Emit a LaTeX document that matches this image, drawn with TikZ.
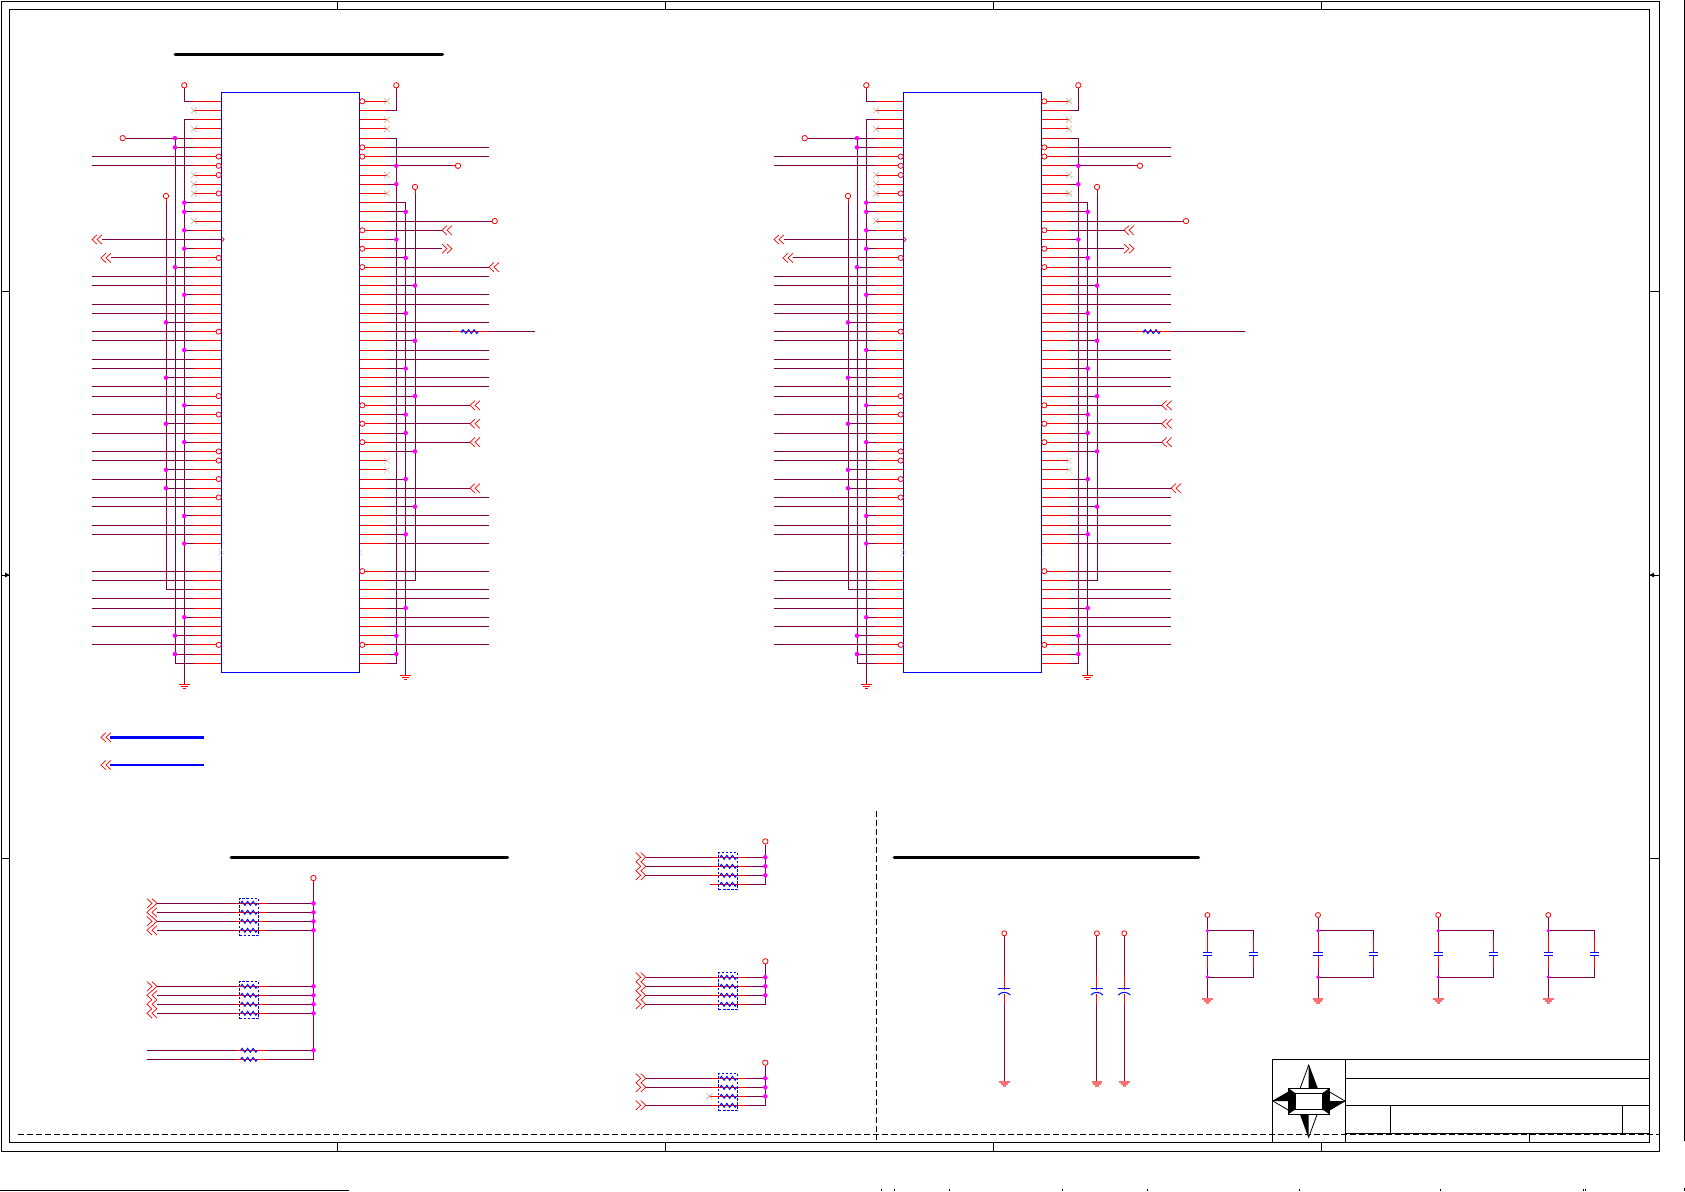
\documentclass[tikz,border=0pt]{standalone}
\definecolor{wirec}{HTML}{7F0040}
\definecolor{xc}{HTML}{C8A890}
\definecolor{xf}{HTML}{E0D0C4}
\definecolor{gndf}{HTML}{FF7070}
\definecolor{jcol}{HTML}{FF00FF}
\definecolor{pblue}{HTML}{0000FF}
\definecolor{pred}{HTML}{FF0000}
\tikzset{
 wire/.style={draw=wirec,line width=0.9pt},
 pinl/.style={draw=pred,line width=0.9pt},
 icbox/.style={draw=pblue,fill=white,line width=0.9pt,rectangle,inner sep=0pt,minimum width=138pt,minimum height=580pt},
 jdot/.style={fill=jcol,draw=none,circle,inner sep=0pt,minimum size=4.6pt},
 pwr/.style={draw=pred,fill=white,line width=0.8pt,circle,inner sep=0pt,minimum size=5.4pt},
 bub/.style={draw=pred,fill=white,line width=0.8pt,circle,inner sep=0pt,minimum size=5.2pt},
 nc/.style={draw=xc,line width=0.6pt},
 ncf/.style={draw=xf,line width=0.6pt},
 chev/.style={draw=pred,line width=0.7pt},
 resz/.style={draw=pblue,line width=0.9pt},
 packbox/.style={draw=pblue,dash pattern=on 2.6pt off 1.5pt,line width=1pt,rectangle,inner sep=0pt,minimum width=18.8pt,minimum height=37.4pt},
 capl/.style={draw=pblue,line width=1.2pt},
 frm/.style={draw=black,line width=0.9pt},
 dashl/.style={draw=black,line width=0.8pt,dash pattern=on 6pt off 3pt},
 titlebar/.style={draw=black,line width=3pt,line cap=round},
 gndl/.style={draw=pred,line width=0.7pt},
 gndp/.style={draw=gndf,line width=1.3pt}
}
\newcommand\rowy[1]{101.3+9.213*#1}
% chevrons: tip x, y
\newcommand\chL[2]{\draw[chev] ({#1+5},{#2-4.7}) -- (#1,#2) -- ({#1+5},{#2+4.7}) ({#1+10},{#2-4.7}) -- ({#1+5},#2) -- ({#1+10},{#2+4.7});}
\newcommand\chR[2]{\draw[chev] (#1,{#2-4.7}) -- ({#1+5},#2) -- (#1,{#2+4.7}) ({#1+5},{#2-4.7}) -- ({#1+10},#2) -- ({#1+5},{#2+4.7});}
\newcommand\ncx[2]{\draw[nc] ({#1-3},{#2-3}) -- ({#1+3},{#2+3}) ({#1-3},{#2+3}) -- ({#1+3},{#2-3});}
\newcommand\ncy[2]{\draw[ncf] ({#1-3},{#2-3}) -- ({#1+3},{#2+3}) ({#1-3},{#2+3}) -- ({#1+3},{#2-3});}
\newcommand\zig[2]{\draw[resz] (#1,#2) -- ++(1.4,-2) -- ++(2.75,4) -- ++(2.75,-4) -- ++(2.75,4) -- ++(2.75,-4) -- ++(2.75,4) -- ++(1.4,-2);}
\newcommand\gnd[2]{\draw[gndl] ({#1-5.7},#2) -- ({#1+5.7},#2) ({#1-3.6},{#2+2}) -- ({#1+3.6},{#2+2}) ({#1-1.6},{#2+4}) -- ({#1+1.6},{#2+4});}
\newcommand\gndpink[2]{\draw[gndp] ({#1-5.4},#2) -- ({#1+5.4},#2) ({#1-3.6},{#2+2}) -- ({#1+3.6},{#2+2}) ({#1-1.6},{#2+4}) -- ({#1+1.6},{#2+4});}
% common part of an IC (drawn in IC1 coordinates)
\newcommand\ICcommon{%
 % left pins
 \foreach \i in {0,...,48,51,52,...,61} {\draw[pinl] (193.7,\rowy{\i}) -- (221.3,\rowy{\i});}
 \foreach \i in {6,7,19,20,22,23,25,26,28,29,31,32,34,36,38,39,41,43,44,46,47,51,52,54,55,57,59}
  {\draw[wire] (92,\rowy{\i}) -- (193.7,\rowy{\i});}
 % left buses
 \node[pwr] (pa) at (166,196) {};
 \draw[wire] (pa) -- (166,\rowy{53}) -- (193.7,\rowy{53});
 \draw[pinl] (166,198.5) -- (166,203);
 \node[pwr] (pc) at (184.3,85.3) {};
 \draw[wire] (pc) -- (184.3,\rowy{0}) -- (193.7,\rowy{0});
 \node[pwr] (pb) at (122.7,\rowy{4}) {};
 \draw[wire] (pb) -- (193.7,\rowy{4});
 \draw[wire] (175,\rowy{4}) -- (175,\rowy{61}) -- (193.7,\rowy{61});
 \draw[wire] (193.7,\rowy{2}) -- (184.3,\rowy{2}) -- (184.3,684);
 \foreach \i in {24,30,35,40,42} {\draw[wire] (166,\rowy{\i}) -- (193.7,\rowy{\i});}
 \foreach \i in {5,18,58,60} {\draw[wire] (175,\rowy{\i}) -- (193.7,\rowy{\i});}
 \foreach \i in {11,12,14,16,21,27,33,37,45,48,56} {\draw[wire] (184.3,\rowy{\i}) -- (193.7,\rowy{\i});}
 \gnd{184.3}{684}
 \foreach \i in {1,3,8,9,10,13} {\ncx{194}{\rowy{\i}}}
 % left arrows
 \draw[wire] (102,\rowy{15}) -- (221.3,\rowy{15});
 \chL{92}{\rowy{15}}
 \draw[wire] (111,\rowy{17}) -- (193.7,\rowy{17});
 \chL{101}{\rowy{17}}
 % right pins
 \foreach \i in {0,...,48,51,52,...,61} {\draw[pinl] (359.3,\rowy{\i}) -- (387,\rowy{\i});}
 \foreach \i in {5,6,18,19,21,22,24,27,28,30,31,43,45,46,48,51,53,54,56,57,59}
  {\draw[wire] (387,\rowy{\i}) -- (488.7,\rowy{\i});}
 % right buses
 \node[pwr] (pd) at (396.3,85.3) {};
 \draw[wire] (pd) -- (396.3,\rowy{1}) -- (387,\rowy{1});
 \draw[wire] (387,\rowy{4}) -- (396.3,\rowy{4}) -- (396.3,\rowy{61}) -- (387,\rowy{61});
 \draw[wire] (387,\rowy{11}) -- (405.7,\rowy{11}) -- (405.7,675);
 \node[pwr] (pf) at (415,187) {};
 \draw[wire] (pf) -- (415,\rowy{52}) -- (387,\rowy{52});
 \draw[pinl] (415,189.5) -- (415,194);
 \foreach \i in {9,15,58,60} {\draw[wire] (387,\rowy{\i}) -- (396.3,\rowy{\i});}
 \foreach \i in {12,17,23,29,34,36,41,47,55} {\draw[wire] (387,\rowy{\i}) -- (405.7,\rowy{\i});}
 \foreach \i in {20,26,32,38,44} {\draw[wire] (387,\rowy{\i}) -- (415,\rowy{\i});}
 \gnd{405.7}{675}
 \foreach \i in {0,2,3,8,10} {\ncx{387}{\rowy{\i}}}
 \foreach \i in {39,40} {\ncy{387}{\rowy{\i}}}
 % right special lines
 \node[pwr] (pg) at (458,\rowy{7}) {};
 \draw[wire] (387,\rowy{7}) -- (pg);
 \draw[pinl] (451.5,\rowy{7}) -- (455.3,\rowy{7});
 \draw[wire] (387,\rowy{14}) -- (442,\rowy{14});
 \chL{442}{\rowy{14}}
 \draw[wire] (387,\rowy{16}) -- (442,\rowy{16});
 \chR{442}{\rowy{16}}
 \draw[wire] (387,\rowy{25}) -- (451.7,\rowy{25});
 \draw[pinl] (451.7,\rowy{25}) -- (488.7,\rowy{25});
 \zig{461.7}{\rowy{25}}
 \node[fill=pblue,circle,inner sep=0pt,minimum size=2.6pt] at (461.9,\rowy{25}) {};
 % junction dots, over all the wires
 \foreach \i in {24,30,35,40,42} {\node[jdot] at (166,\rowy{\i}) {};}
 \foreach \i in {4,5,18,58,60} {\node[jdot] at (175,\rowy{\i}) {};}
 \foreach \i in {11,12,14,16,21,27,33,37,45,48,56} {\node[jdot] at (184.3,\rowy{\i}) {};}
 \foreach \i in {7,9,15,58,60} {\node[jdot] at (396.3,\rowy{\i}) {};}
 \foreach \i in {12,17,23,29,34,36,41,47,55} {\node[jdot] at (405.7,\rowy{\i}) {};}
 \foreach \i in {20,26,32,38,44} {\node[jdot] at (415,\rowy{\i}) {};}
 % the box and its edge marks
 \ncy{221.3}{\rowy{49}}
 \ncy{359.3}{\rowy{49}}
 \node[icbox] (ic) at (290.3,382.3) {};
 \draw[ncf] (221.3,{\rowy{49}-3}) -- ++(3,3) -- ++(-3,3) (359.3,{\rowy{49}}) ++(-0.1,0) -- ++(0,0);
 \foreach \i in {6,7,8,10,17,25,32,34,38,39,41,43,59} {\node[bub] at (218.7,\rowy{\i}) {};}
 \foreach \i in {0,5,6,14,16,18,33,35,37,51,59} {\node[bub] at (362.3,\rowy{\i}) {};}
 \draw[pinl,line width=0.7pt] (221.6,{\rowy{15}-2.6}) -- (224.2,\rowy{15}) -- (221.6,{\rowy{15}+2.6});
}
\begin{document}
\begin{tikzpicture}[x=1pt,y=-1pt]
\useasboundingbox (0,0) rectangle (1685,1191);
% frames
\draw[frm] (1,1) rectangle (1659.3,1151.3);
\draw[frm] (9.7,9.3) rectangle (1649.3,1142.3);
\foreach \x in {337.3,665,993.5,1321} {\draw[frm] (\x,1) -- (\x,9.3) (\x,1142.3) -- (\x,1151.3);}
\foreach \y in {291,858.6} {\draw[frm] (1,\y) -- (9.7,\y) (1649.3,\y) -- (1659.3,\y);}
\draw[frm] (1,575) -- (9.7,575) (1649.3,575) -- (1659.3,575);
\fill[black] (9.7,575) -- (5,572.6) -- (5,577.4) -- cycle;
\fill[black] (1649.3,575) -- (1654,572.6) -- (1654,577.4) -- cycle;
\draw[frm] (1684.5,0) -- (1684.5,1141) (1684.5,1188) -- (1684.5,1191);
\draw[frm] (0,1190.3) -- (349,1190.3);
\foreach \x in {881,894,949,1062.6,1147,1299,1440,1583,1585} {\draw[black,line width=0.5pt] (\x,1189.3) -- (\x,1191);}
% dashed dividers
\draw[dashl] (18,1134.3) -- (1659.3,1134.3);
\draw[dashl] (876.3,811) -- (876.3,1140);
% section bars
\draw[titlebar] (175,54.8) -- (442.5,54.8);
\draw[titlebar] (231,857.3) -- (507.5,857.3);
\draw[titlebar] (894,857.5) -- (1198.5,857.5);
% ICs
\ICcommon
% IC1 only
\node[pwr] (q1) at (494.7,\rowy{13}) {};
\draw[wire] (387,\rowy{13}) -- (q1);
\draw[wire] (488.7,\rowy{25}) -- (535,\rowy{25});
\chL{489}{\rowy{18}}
\foreach \i in {33,35,37,42} {\draw[wire] (387,\rowy{\i}) -- (470,\rowy{\i}); \chL{470}{\rowy{\i}}}
\begin{scope}[xshift=682pt,name prefix=b]
\ICcommon
\node[pwr] (q2) at (504,\rowy{13}) {};
\draw[wire] (387,\rowy{13}) -- (q2);
\draw[wire] (488.7,\rowy{25}) -- (562.7,\rowy{25});
\foreach \i in {33,35,37} {\draw[wire] (387,\rowy{\i}) -- (479.7,\rowy{\i}); \chL{479.7}{\rowy{\i}}}
\draw[wire] (387,\rowy{42}) -- (489,\rowy{42}); \chL{489}{\rowy{42}}
\end{scope}
% legend
\draw[draw=pblue,line width=2.4pt] (110,737.3) -- (204,737.3);
\chL{101}{737.3}
\draw[draw=pblue,line width=1.7pt] (110,765) -- (204,765);
\chL{101}{765}
% lower left packs
\node[pwr] (pl) at (313.5,878) {};
\draw[wire] (pl) -- (313.5,1059.3) -- (147,1059.3);
\draw[wire] (147,1050.3) -- (313.5,1050.3);
\foreach \y in {903.3,912.3,921.3,930.3,986.3,995.3,1004.3,1013.3} {
 \draw[wire] (157,\y) -- (313.5,\y);
 \draw[pinl] (236,\y) -- (266,\y);
 \zig{240.7}{\y}
 \node[jdot] at (313.5,\y) {};
}
\foreach \y in {1050.3,1059.3} {\draw[pinl] (236,\y) -- (266,\y); \zig{240.7}{\y}}
\node[jdot] at (313.5,1050.3) {};
\node[packbox] (r1) at (249,917) {};
\node[packbox] (r2) at (249,1000) {};
\chR{147}{903.3} \chL{147}{912.3} \chR{147}{921.3} \chL{147}{930.3}
\chR{147}{986.3} \chL{147}{995.3} \chL{147}{1004.3} \chL{147}{1013.3}
% lower middle packs
\newcommand\packgroup[7]{%
 \node[pwr] (#7) at (765.3,#1) {};
 \draw[wire] (#7) -- (765.3,#5) -- (746,#5);
 \foreach \y in {#2,#3,#4} {\draw[wire] (746,\y) -- (765.3,\y);}
 \foreach \y in {#2,#3,#4,#5} {\draw[pinl] (709.5,\y) -- (746,\y); \zig{720}{\y}}
 \foreach \y in {#2,#3,#4} {\node[jdot] at (765.3,\y) {};}
 \node[packbox] at (728.2,#6) {};
}
\packgroup{841.4}{857.3}{866.3}{875.3}{884.3}{871}{ga}
\foreach \y in {857.3,866.3,875.3} {\draw[wire] (645.6,\y) -- (712,\y); \chR{635.8}{\y}}
\draw[wire] (709.5,884.3) -- (712,884.3);
\packgroup{961.3}{977.3}{986.3}{995.3}{1004.3}{991}{gb}
\foreach \y in {977.3,986.3,995.3,1004.3} {\draw[wire] (645.6,\y) -- (712,\y); \chR{635.8}{\y}}
\packgroup{1062.7}{1078.3}{1087.3}{1096.3}{1105.3}{1092}{gc}
\foreach \y in {1078.3,1087.3,1105.3} {\draw[wire] (645.6,\y) -- (712,\y); \chR{635.8}{\y}}
\ncx{709.5}{1096.3}
% polar caps
\newcommand\polcap[2]{%
 \node[pwr,minimum size=5pt] (#2) at (#1,933.3) {};
 \draw[wire] (#2) -- (#1,1082);
 \draw[pinl] (#1,975) -- (#1,1005);
 \draw[draw=white,line width=2pt] (#1,990) -- (#1,993.5);
 \draw[capl] ({#1-6},988.7) -- ({#1+6},988.7);
 \draw[draw=pblue,line width=1pt] ({#1-6},995) .. controls ({#1-3},991.5) and ({#1+3},991.5) .. ({#1+6},995);
 \gndpink{#1}{1082}
}
\polcap{1004.3}{ca}
\polcap{1096.9}{cb}
\polcap{1124.3}{cc}
% parallel caps
\newcommand\parcap[3]{%
 \node[pwr,minimum size=5pt] (#3) at (#1,915) {};
 \draw[wire] (#3) -- (#1,999);
 \draw[wire] (#1,930.7) -- (#2,930.7) -- (#2,977) -- (#1,977);
 \draw[pinl] (#1,935) -- (#1,968) (#2,938) -- (#2,968);
 \draw[draw=white,line width=2pt] (#1,953) -- (#1,955) (#2,953) -- (#2,955);
 \draw[capl] ({#1-4.7},952.3) -- ({#1+4.7},952.3) ({#1-4.7},955.6) -- ({#1+4.7},955.6);
 \draw[capl] ({#2-4.7},952.3) -- ({#2+4.7},952.3) ({#2-4.7},955.6) -- ({#2+4.7},955.6);
 \node[jdot,minimum size=3.8pt] at (#1,930.7) {};
 \node[jdot,minimum size=3.8pt] at (#1,977) {};
 \gndpink{#1}{999}
}
\parcap{1207.5}{1253.4}{da}
\parcap{1318}{1373.4}{db}
\parcap{1438.2}{1493.5}{dc}
\parcap{1548.3}{1594.7}{dd}
% title block
\draw[frm] (1272.3,1142.3) -- (1272.3,1059.3) -- (1649.3,1059.3);
\draw[frm] (1345.7,1059.3) -- (1345.7,1142.3);
\draw[frm] (1345.7,1078.7) -- (1649.3,1078.7);
\draw[frm] (1345.7,1105) -- (1649.3,1105);
\draw[frm] (1345.7,1133.3) -- (1649.3,1133.3);
\draw[frm] (1390.5,1105) -- (1390.5,1133.3);
\draw[frm] (1622.6,1105) -- (1622.6,1133.3);
\draw[frm] (1529,1133.3) -- (1529,1142.3);
% compass
\draw[black,line width=0.8pt,fill=white] (1308.7,1065) -- (1318,1090) -- (1299.5,1090) -- cycle;
\fill[black] (1308.7,1065) -- (1318,1090) -- (1308.7,1090) -- cycle;
\draw[black,line width=0.8pt,fill=white] (1308.7,1137.3) -- (1318,1112) -- (1299.5,1112) -- cycle;
\fill[black] (1308.7,1137.3) -- (1299.5,1112) -- (1308.7,1112) -- cycle;
\draw[black,line width=0.8pt,fill=white] (1272.8,1101) -- (1290,1091) -- (1290,1111) -- cycle;
\fill[black] (1272.8,1101) -- (1290,1091) -- (1290,1101) -- cycle;
\draw[black,line width=0.8pt,fill=white] (1345,1101) -- (1328,1091) -- (1328,1111) -- cycle;
\fill[black] (1345,1101) -- (1328,1111) -- (1328,1101) -- cycle;
\draw[black,line width=1pt,fill=white] (1288,1088.3) rectangle (1329.7,1114);
\fill[black] (1288,1088.3) -- (1295,1093.3) -- (1295,1109.3) -- (1288,1114) -- cycle;
\fill[black] (1329.7,1088.3) -- (1322.7,1093.3) -- (1322.7,1109.3) -- (1329.7,1114) -- cycle;
\draw[black,line width=1pt,fill=white] (1295,1093.3) rectangle (1322.7,1109.3);
\draw[black,line width=0.6pt] (1288,1088.3) -- (1295,1093.3) (1329.7,1088.3) -- (1322.7,1093.3) (1288,1114) -- (1295,1109.3) (1329.7,1114) -- (1322.7,1109.3);
\end{tikzpicture}
\end{document}
